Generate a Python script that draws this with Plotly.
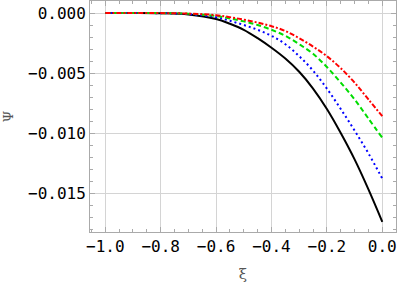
import plotly.graph_objects as go

xi = [-1.0, -0.9, -0.8, -0.7, -0.6, -0.55, -0.5, -0.45, -0.4, -0.35, -0.3, -0.25, -0.2, -0.15, -0.1, -0.05, 0.0]
psi_black = [0.0, 0.0, -0.00002, -0.00012, -0.0005, -0.0009, -0.0014, -0.0021, -0.0029, -0.0038, -0.0049, -0.0063, -0.0080, -0.0100, -0.0122, -0.0147, -0.0174]
psi_blue = [0.0, 0.0, -0.00002, -0.0001, -0.00035, -0.00065, -0.001, -0.0014, -0.0019, -0.0026, -0.0036, -0.0048, -0.0063, -0.008, -0.0098, -0.0117, -0.0138]
psi_green = [0.0, 0.0, -0.00001, -0.00006, -0.00025, -0.00045, -0.0007, -0.001, -0.0014, -0.0019, -0.0026, -0.0034, -0.0045, -0.0058, -0.0072, -0.0088, -0.0104]
psi_red = [0.0, 0.0, -0.00001, -0.00005, -0.00018, -0.00035, -0.00055, -0.0008, -0.0011, -0.0015, -0.0021, -0.0028, -0.0036, -0.0046, -0.0058, -0.0072, -0.0086]

x_tickvals = [-1.0, -0.8, -0.6, -0.4, -0.2, 0.0]
x_ticktext = ["\u22121.0", "\u22120.8", "\u22120.6", "\u22120.4", "\u22120.2", "0.0"]
y_tickvals = [0.0, -0.005, -0.010, -0.015]
y_ticktext = ["0.000", "\u22120.005", "\u22120.010", "\u22120.015"]

fig = go.Figure()
series = [
    (psi_black, "black", "solid"),
    (psi_blue, "#0000ff", "2px,3px"),
    (psi_green, "#00dd00", "5px,3px"),
    (psi_red, "#ff0000", "5px,2px,2px,2px"),
]
for ys, col, dash in series:
    fig.add_trace(go.Scatter(x=xi, y=ys, mode="lines",
                             line=dict(color=col, width=2, dash=dash, shape="spline", smoothing=1.0),
                             showlegend=False, hoverinfo="skip"))

axis_common = dict(
    showgrid=True, gridcolor="#d4d4d4", gridwidth=1,
    showline=True, linecolor="#aaaaaa", linewidth=1, mirror="ticks",
    ticks="inside", ticklen=5, tickcolor="#aaaaaa",
    zeroline=False,
    tickfont=dict(family="DejaVu Sans Mono", size=16, color="black"),
)

fig.update_layout(
    width=399, height=283,
    margin=dict(l=90, r=3, t=1, b=51),
    paper_bgcolor="white", plot_bgcolor="white",
    xaxis=dict(range=[-1.0552, 0.0495], tickvals=x_tickvals, ticktext=x_ticktext,
               minor=dict(dtick=0.05, tick0=0, ticks="inside", ticklen=3, tickcolor="#aaaaaa", showgrid=False),
               title=dict(text="\u03be", font=dict(family="DejaVu Serif", size=15, color="#555555"), standoff=13),
               **axis_common),
    yaxis=dict(range=[-0.01825, 0.001], tickvals=y_tickvals, ticktext=y_ticktext,
               minor=dict(dtick=0.001, tick0=0, ticks="inside", ticklen=3, tickcolor="#aaaaaa", showgrid=False),
               title=dict(text="\u03a8", font=dict(family="DejaVu Serif", size=13, color="#555555"), standoff=11),
               **axis_common),
)

fig.write_html("out.html", config={"displayModeBar": False},
               post_script="document.body.style.margin='0';")
